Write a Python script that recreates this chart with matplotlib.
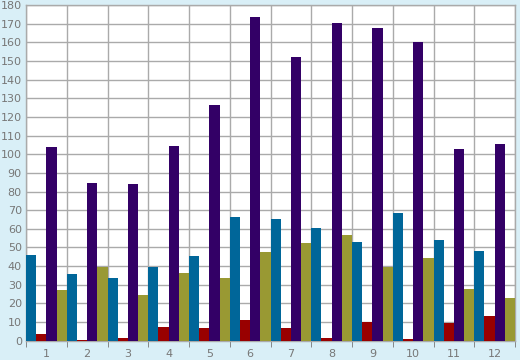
import numpy as np
import matplotlib.pyplot as plt

# data
months = [str(i) for i in range(1, 13)]
blue = [45.9, 35.7, 33.6, 39.5, 45.4, 66.3, 65.2, 60.4, 52.9, 68.4, 53.9, 48.0]
red = [3.6, 0.4, 1.4, 7.5, 6.8, 11.1, 6.8, 1.4, 10.2, 0.9, 9.5, 13.2]
purple = [104.0, 84.5, 83.9, 104.5, 126.3, 173.6, 151.9, 170.1, 167.4, 160.0, 102.6, 105.3]
olive = [27.1, 39.5, 24.5, 36.3, 33.6, 47.5, 52.3, 56.6, 39.5, 44.3, 27.7, 22.9]

series = [blue, red, purple, olive]
colors = ['#006699', '#990000', '#330066', '#999933']

bg = '#d9eff7'
grid_c = '#aaaaaa'
txt_c = '#777777'

fig = plt.figure(figsize=(5.2, 3.6), dpi=100, facecolor=bg)
ax = fig.add_axes([26 / 520, 19.3 / 360, 489 / 520, 335.7 / 360])
ax.set_facecolor('white')

x = np.arange(len(months))
w = 0.25
for i, (vals, c) in enumerate(zip(series, colors)):
    ax.bar(x + (i - 1.5) * w, vals, width=w, color=c, linewidth=0, zorder=3)

ax.set_xlim(-0.5, len(months) - 0.5)
ax.set_ylim(0, 180)
ax.set_yticks(np.arange(0, 181, 10))
ax.set_xticks(x)
ax.set_xticklabels(months)
ax.set_xticks(np.arange(-0.5, len(months), 1), minor=True)

ax.grid(True, axis='y', color=grid_c, linewidth=1, zorder=0)
ax.grid(True, axis='x', which='minor', color=grid_c, linewidth=1, zorder=0)
ax.grid(False, axis='x', which='major')

ax.tick_params(axis='x', which='major', length=0, pad=6, labelsize=8, labelcolor=txt_c)
ax.tick_params(axis='x', which='minor', length=4, color=txt_c, direction='out')
ax.tick_params(axis='y', length=0, pad=3, labelsize=8, labelcolor=txt_c)

for s in ax.spines.values():
    s.set_color(grid_c)
    s.set_linewidth(1)

fig.savefig('out.png', dpi=100, facecolor=bg)
